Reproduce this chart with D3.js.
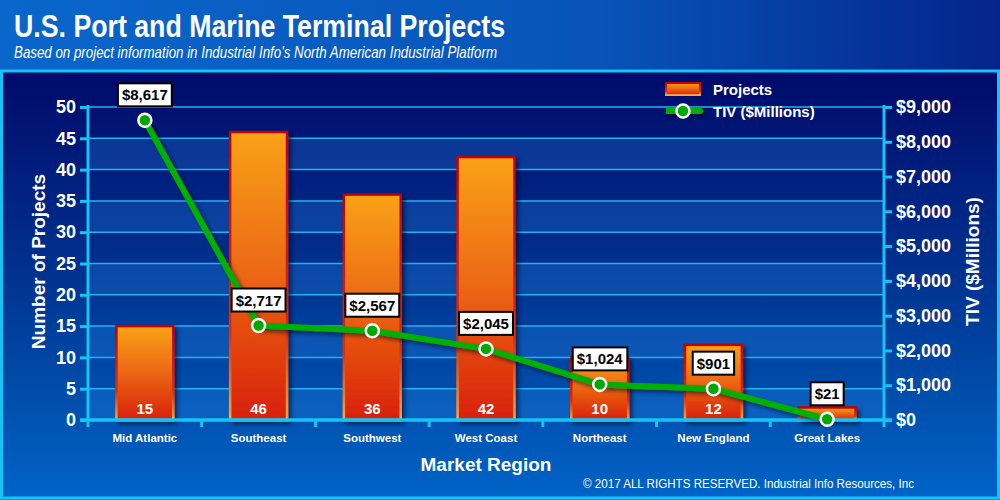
<!DOCTYPE html>
<html>
<head>
<meta charset="utf-8">
<script src="https://cdn.jsdelivr.net/npm/d3@7"></script>
<style>
  body { margin: 0; background: #00206e; }
  svg { display: block; font-family: "Liberation Sans", Arial, sans-serif; }
</style>
</head>
<body>
<div id="chart"></div>
<script>
// Data
var categories   = ['Mid Atlantic', 'Southeast', 'Southwest', 'West Coast', 'Northeast', 'New England', 'Great Lakes'];
var projects     = [15, 46, 36, 42, 10, 12, 2];
var projectLabels = ['15', '46', '36', '42', '10', '12', ''];
var tiv          = [8617, 2717, 2567, 2045, 1024, 901, 21];
var projectTicks = [0, 5, 10, 15, 20, 25, 30, 35, 40, 45, 50];
var tivTicks     = [0, 1000, 2000, 3000, 4000, 5000, 6000, 7000, 8000, 9000];

var width  = 1000;
var height = 500;
var margin = { top: 107, right: 116, bottom: 80, left: 88 };
var plot_w = width - margin.left - margin.right;
var plot_h = height - margin.top - margin.bottom;
var cyan = '#14c4f4';

var svg = d3.select('#chart')
    .append('svg')
    .attr('width', width)
    .attr('height', height);

var defs = svg.append('defs');

function linear(id, x2, y2, stops) {
    var g = defs.append('linearGradient')
        .attr('id', id)
        .attr('x1', 0).attr('y1', 0)
        .attr('x2', x2).attr('y2', y2);
    stops.forEach(function(s) {
        g.append('stop').attr('offset', s[0]).attr('stop-color', s[1]);
    });
}
linear('head', 1, 0, [[0, '#0a66cc'], [0.6, '#0854b8'], [1, '#04248a']]);
linear('panel', 0, 1, [[0, '#000a6a'], [0.45, '#00308e'], [0.8, '#0052b0'], [1, '#0064c8']]);
linear('barFill', 0, 1, [[0, '#f9a212'], [0.5, '#ec6612'], [1, '#d8200e']]);
linear('barStroke', 0, 1, [[0, '#c40000'], [0.7, '#d83010'], [1, '#f8a848']]);

var shadow = defs.append('filter').attr('id', 'shadow')
    .attr('filterUnits', 'userSpaceOnUse')
    .attr('x', 0).attr('y', 0).attr('width', width).attr('height', height);
shadow.append('feDropShadow')
    .attr('dx', 3).attr('dy', 3).attr('stdDeviation', 2)
    .attr('flood-color', '#000020').attr('flood-opacity', 0.55);
var shadowG = defs.append('filter').attr('id', 'shadowG')
    .attr('filterUnits', 'userSpaceOnUse')
    .attr('x', -margin.left).attr('y', -margin.top).attr('width', width).attr('height', height);
shadowG.append('feDropShadow')
    .attr('dx', 3).attr('dy', 3).attr('stdDeviation', 2)
    .attr('flood-color', '#000020').attr('flood-opacity', 0.55);

// background
svg.append('rect').attr('width', width).attr('height', 71).attr('fill', 'url(#head)');
svg.append('rect').attr('y', 71).attr('width', width).attr('height', height - 71).attr('fill', 'url(#panel)');
svg.append('rect')
    .attr('x', 1.5).attr('y', 71).attr('width', width - 3).attr('height', height - 73)
    .attr('fill', 'none').attr('stroke', cyan).attr('stroke-width', 3);

// title
svg.append('text')
    .attr('x', 14).attr('y', 37)
    .attr('fill', 'white').attr('font-size', 31).attr('font-weight', 'bold')
    .attr('textLength', 491).attr('lengthAdjust', 'spacingAndGlyphs')
    .text('U.S. Port and Marine Terminal Projects');
svg.append('text')
    .attr('x', 14).attr('y', 58)
    .attr('fill', 'white').attr('font-size', 16).attr('font-style', 'italic')
    .attr('textLength', 483).attr('lengthAdjust', 'spacingAndGlyphs')
    .text("Based on project information in Industrial Info's North American Industrial Platform");

// scales
var x = d3.scaleBand()
    .domain(categories)
    .range([0, plot_w])
    .paddingInner(0.5)
    .paddingOuter(0.25);
var band = d3.scaleBand().domain(categories).range([0, plot_w]);
var y = d3.scaleLinear().domain([0, 50]).range([plot_h, 0]);
var y2 = d3.scaleLinear().domain([0, 9000]).range([plot_h, 0]);

var g = svg.append('g')
    .attr('transform', 'translate(' + margin.left + ',' + margin.top + ')');

// stripes
var stripes = d3.pairs(projectTicks).filter(function(d, i) { return i % 2 === 0; });
g.selectAll('rect.stripe')
    .data(stripes)
    .enter()
    .append('rect')
    .attr('class', 'stripe')
    .attr('x', 0)
    .attr('width', plot_w)
    .attr('y', function(d) { return y(d[1]); })
    .attr('height', function(d) { return y(d[0]) - y(d[1]); })
    .attr('fill', '#2a8ae8')
    .attr('opacity', 0.27);

// gridlines
g.selectAll('line.grid')
    .data(projectTicks.slice(1))
    .enter()
    .append('line')
    .attr('class', 'grid')
    .attr('x1', 0).attr('x2', plot_w)
    .attr('y1', function(d) { return y(d); })
    .attr('y2', function(d) { return y(d); })
    .attr('stroke', '#20b4ee').attr('stroke-width', 1.5);

// left axis
var leftAxis = g.append('g')
    .call(d3.axisLeft(y).tickValues(projectTicks).tickSize(8).tickPadding(4));
// right axis
var rightAxis = g.append('g')
    .attr('transform', 'translate(' + plot_w + ',0)')
    .call(d3.axisRight(y2).tickValues(tivTicks).tickSize(8).tickPadding(4)
        .tickFormat(function(d) { return '$' + d3.format(',')(d); }));
[leftAxis, rightAxis].forEach(function(a) {
    a.select('.domain').remove();
    a.selectAll('line').attr('stroke', cyan).attr('stroke-width', 3);
    a.selectAll('text')
        .attr('fill', 'white')
        .attr('font-size', 18)
        .attr('font-weight', 'bold')
        .attr('font-family', '"Liberation Sans", Arial, sans-serif');
});
g.append('line').attr('x1', 0).attr('x2', 0).attr('y1', -2).attr('y2', plot_h + 7)
    .attr('stroke', cyan).attr('stroke-width', 3);
g.append('line').attr('x1', plot_w).attr('x2', plot_w).attr('y1', -2).attr('y2', plot_h + 7)
    .attr('stroke', cyan).attr('stroke-width', 3);

// bars
g.selectAll('rect.bar')
    .data(projects)
    .enter()
    .append('rect')
    .attr('class', 'bar')
    .attr('x', function(d, i) { return x(categories[i]); })
    .attr('y', function(d) { return y(d); })
    .attr('width', x.bandwidth())
    .attr('height', function(d) { return y(0) - y(d); })
    .attr('fill', 'url(#barFill)')
    .attr('stroke', 'url(#barStroke)')
    .attr('stroke-width', 2.5)
    .attr('filter', 'url(#shadowG)');

g.selectAll('text.barval')
    .data(projectLabels)
    .enter()
    .append('text')
    .attr('class', 'barval')
    .attr('x', function(d, i) { return x(categories[i]) + x.bandwidth() / 2; })
    .attr('y', plot_h - 6)
    .attr('text-anchor', 'middle')
    .attr('fill', 'white').attr('font-size', 15).attr('font-weight', 'bold')
    .text(function(d) { return d; });

// x axis
var bottomAxis = g.append('g')
    .attr('transform', 'translate(0,' + plot_h + ')')
    .call(d3.axisBottom(band).tickSize(0).tickPadding(14));
bottomAxis.select('.domain').remove();
bottomAxis.selectAll('text')
    .attr('fill', 'white').attr('font-size', 11.5).attr('font-weight', 'bold')
    .attr('font-family', '"Liberation Sans", Arial, sans-serif');
g.selectAll('line.xtick')
    .data(categories.slice(1))
    .enter()
    .append('line')
    .attr('class', 'xtick')
    .attr('x1', function(d) { return band(d); })
    .attr('x2', function(d) { return band(d); })
    .attr('y1', plot_h).attr('y2', plot_h + 7)
    .attr('stroke', cyan).attr('stroke-width', 3);
g.append('line').attr('x1', -8).attr('x2', plot_w + 8).attr('y1', plot_h).attr('y2', plot_h)
    .attr('stroke', cyan).attr('stroke-width', 3.5);

// TIV line
var line = d3.line()
    .x(function(d, i) { return band(categories[i]) + band.bandwidth() / 2; })
    .y(function(d) { return y2(d); });
g.append('path')
    .datum(tiv)
    .attr('d', line)
    .attr('fill', 'none')
    .attr('stroke', '#00b000')
    .attr('stroke-width', 6)
    .attr('stroke-linejoin', 'round')
    .attr('filter', 'url(#shadowG)');
g.selectAll('circle.pt')
    .data(tiv)
    .enter()
    .append('circle')
    .attr('class', 'pt')
    .attr('cx', function(d, i) { return band(categories[i]) + band.bandwidth() / 2; })
    .attr('cy', function(d) { return y2(d); })
    .attr('r', 6.5)
    .attr('fill', '#00a800')
    .attr('stroke', 'white')
    .attr('stroke-width', 2.5);

// TIV labels
var labels = g.selectAll('g.tivlabel')
    .data(tiv)
    .enter()
    .append('g')
    .attr('class', 'tivlabel')
    .attr('transform', function(d, i) {
        return 'translate(' + (band(categories[i]) + band.bandwidth() / 2) + ',' + (y2(d) - 14) + ')';
    });
labels.append('text')
    .attr('y', -6)
    .attr('text-anchor', 'middle')
    .attr('fill', 'black').attr('font-size', 15).attr('font-weight', 'bold')
    .text(function(d) { return '$' + d3.format(',')(d); });
labels.each(function() {
    var grp = d3.select(this);
    var bb = grp.select('text').node().getBBox();
    grp.insert('rect', 'text')
        .attr('x', bb.x - 4).attr('y', -23)
        .attr('width', bb.width + 8).attr('height', 23)
        .attr('fill', 'white').attr('stroke', 'black').attr('stroke-width', 2);
});

// axis titles
svg.append('text')
    .attr('transform', 'translate(45,' + (margin.top + plot_h / 2 - 2) + ') rotate(-90)')
    .attr('text-anchor', 'middle')
    .attr('fill', 'white').attr('font-size', 19).attr('font-weight', 'bold')
    .text('Number of Projects');
svg.append('text')
    .attr('transform', 'translate(979,' + (margin.top + plot_h / 2 - 2) + ') rotate(-90)')
    .attr('text-anchor', 'middle')
    .attr('fill', 'white').attr('font-size', 19).attr('font-weight', 'bold')
    .text('TIV ($Millions)');
svg.append('text')
    .attr('x', margin.left + plot_w / 2).attr('y', 471)
    .attr('text-anchor', 'middle')
    .attr('fill', 'white').attr('font-size', 19).attr('font-weight', 'bold')
    .text('Market Region');
svg.append('text')
    .attr('x', 583).attr('y', 488)
    .attr('fill', 'white').attr('font-size', 12)
    .attr('textLength', 331).attr('lengthAdjust', 'spacingAndGlyphs')
    .text('\u00a9 2017 ALL RIGHTS RESERVED. Industrial Info Resources, Inc');

// legend
var legend = svg.append('g').attr('transform', 'translate(666,83)');
legend.append('rect')
    .attr('width', 34).attr('height', 12)
    .attr('fill', 'url(#barFill)').attr('stroke', 'url(#barStroke)').attr('stroke-width', 2);
legend.append('text')
    .attr('x', 47).attr('y', 12)
    .attr('fill', 'white').attr('font-size', 15).attr('font-weight', 'bold')
    .text('Projects');
legend.append('rect')
    .attr('x', -3).attr('y', 25).attr('width', 40).attr('height', 6).attr('rx', 3)
    .attr('fill', '#00b000')
    .attr('filter', 'url(#shadow)');
legend.append('circle')
    .attr('cx', 17).attr('cy', 28).attr('r', 6.5)
    .attr('fill', '#00a800').attr('stroke', 'white').attr('stroke-width', 2.5);
legend.append('text')
    .attr('x', 47).attr('y', 34)
    .attr('fill', 'white').attr('font-size', 15).attr('font-weight', 'bold')
    .text('TIV ($Millions)');
</script>
</body>
</html>
